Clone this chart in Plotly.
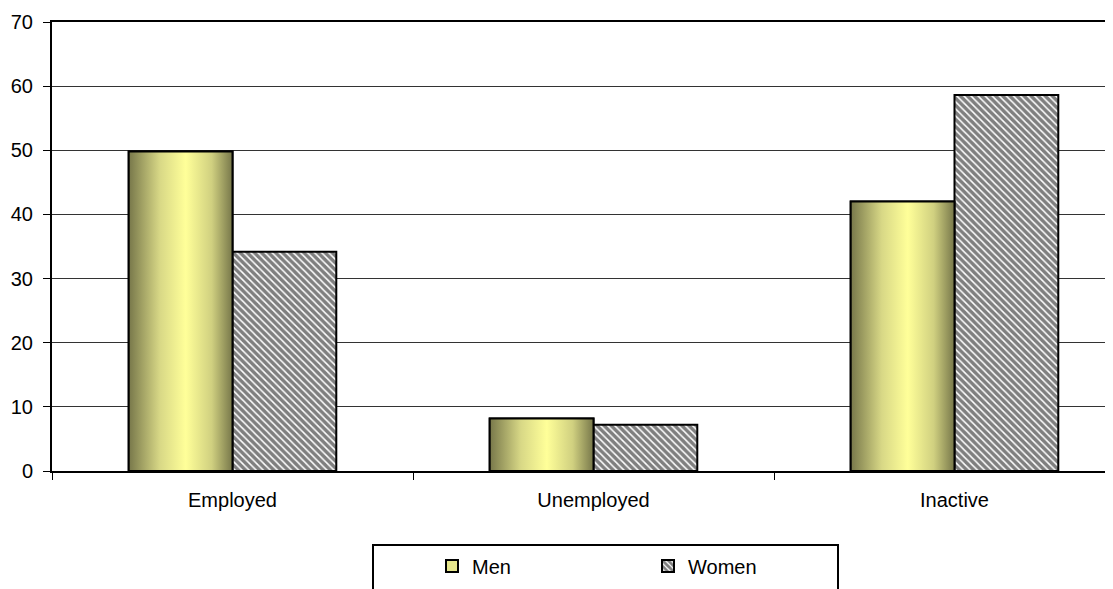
import plotly.graph_objects as go

categories = ["Employed", "Unemployed", "Inactive"]
men = [49.8, 8.2, 42.0]
women = [34.2, 7.2, 58.6]
y_ticks = [0, 10, 20, 30, 40, 50, 60, 70]

W, H = 1113, 589
OFF = 8  # page body margin
ML, MR, MT, MB = 52 - OFF, 0, 22 - OFF, 118 + OFF
BW = 0.2875
FONT = "Liberation Sans, Arial, sans-serif"

xs = list(range(len(categories)))

fig = go.Figure()
fig.add_trace(go.Bar(
    x=xs, y=men, name="Men", width=BW, offset=-BW,
    marker=dict(color="#e6e68c", line=dict(color="black", width=2)),
))
fig.add_trace(go.Bar(
    x=xs, y=women, name="Women", width=BW, offset=0,
    marker=dict(color="white", line=dict(color="black", width=2),
                pattern=dict(shape="\\", fgcolor="black", bgcolor="white",
                             size=5, solidity=0.7, fillmode="overlay")),
))

# gradient overlay for the Men bars, computed from the data
for xi, v in zip(xs, men):
    x0, x1 = xi - BW, xi
    fig.add_trace(go.Scatter(
        x=[x0, x0, x1, x1, x0], y=[0, v, v, 0, 0],
        mode="lines", fill="toself",
        line=dict(color="black", width=2),
        fillgradient=dict(type="horizontal",
                          colorscale=[[0, "#77774a"], [0.3, "#d8d886"], [0.55, "#ffff99"],
                                      [0.8, "#d0d080"], [1, "#77774a"]]),
        showlegend=False, hoverinfo="skip",
    ))

plot_w = W - ML - MR
plot_h = H - MT - MB
span = plot_w / 361.0


def px_x(p):
    return (p - OFF - ML) / plot_w


def px_y(p):
    return (H + OFF - MB - p) / plot_h


fig.update_layout(
    width=W, height=H,
    margin=dict(l=ML, r=MR, t=MT, b=MB, autoexpand=False),
    paper_bgcolor="white", plot_bgcolor="white",
    font=dict(family=FONT, size=20, color="black"),
    barmode="overlay",
    showlegend=True,
    legend=dict(orientation="h", x=px_x(432), xanchor="left",
                y=px_y(566), yanchor="middle",
                font=dict(size=20), entrywidth=171, bgcolor="rgba(0,0,0,0)",
                itemclick=False),
    shapes=[dict(type="rect", xref="paper", yref="paper",
                 x0=px_x(373), x1=px_x(838),
                 y0=px_y(545), y1=px_y(610),
                 line=dict(color="black", width=2), fillcolor="rgba(0,0,0,0)")],
    xaxis=dict(range=[-0.5, -0.5 + span], tickvals=xs, ticktext=categories,
               ticks="", showgrid=False, zeroline=False,
               showline=True, linecolor="black", linewidth=2, mirror=True,
               ticklabelstandoff=10,
               minor=dict(tick0=0.5, dtick=1, ticks="outside", ticklen=7,
                          tickwidth=1, tickcolor="black", showgrid=False)),
    yaxis=dict(range=[0, 70], tickvals=y_ticks, ticks="outside", ticklen=7,
               tickwidth=1, tickcolor="black", ticklabelstandoff=6,
               showgrid=True, gridcolor="#333", gridwidth=1, zeroline=False,
               showline=True, linecolor="black", linewidth=2),
)

fig.write_html("out.html")
